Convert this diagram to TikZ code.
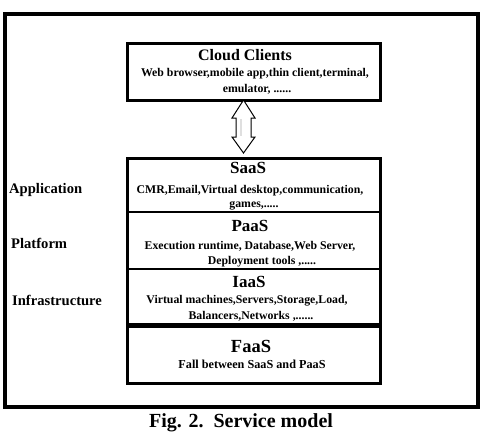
\documentclass[tikz,border=0pt]{standalone}
\usepackage{fontspec}
\setmainfont{Liberation Serif}
\usetikzlibrary{calc}
\begin{document}
\begin{tikzpicture}[x=1pt,y=-1pt,
  frame/.style={draw, line width=4pt},
  box/.style={draw, line width=2.6pt, anchor=north west, inner sep=0pt},
  divider/.style={line width=2pt},
  ttl/.style={anchor=base, inner sep=0pt, font=\fontsize{17}{17}\selectfont\bfseries},
  sub/.style={anchor=base, inner sep=0pt, font=\fontsize{11.8}{12}\selectfont\bfseries},
  lbl/.style={anchor=base west, inner sep=0pt, font=\fontsize{14.6}{15}\selectfont\bfseries},
  captext/.style={anchor=base, inner sep=0pt, font=\fontsize{20}{20}\selectfont\bfseries},
  dblarrow/.style={draw, line width=1pt, fill=white}]
\useasboundingbox (0,0) rectangle (481,434);
\node[frame, anchor=north west, minimum width=473pt, minimum height=393pt, inner sep=0pt] (outer) at (3,12) {};
% Cloud clients
\node[box, minimum width=253pt, minimum height=57pt] (cloud) at (126,42) {};
\node[ttl, font=\fontsize{16}{16}\selectfont\bfseries] (cloudt) at (245,60) {Cloud Clients};
\node[sub] (cloud1) at (255,76) {Web browser,mobile app,thin client,terminal,};
\node[sub] (cloud2) at (257,92) {emulator, ......};
% stack
\node[box, minimum width=253pt, minimum height=166pt] (stack) at (126,157) {};
\coordinate (d1l) at (126,212); \coordinate (d1r) at (379,212);
\coordinate (d2l) at (126,269); \coordinate (d2r) at (379,269);
\draw[divider] (d1l) -- (d1r);
\draw[divider] (d2l) -- (d2r);
\node[box, minimum width=253pt, minimum height=57pt] (faas) at (126,325) {};
% double arrow
\coordinate (at) at (243.5,100);
\coordinate (ab) at (243.5,153);
\draw[dblarrow] (at) -- ++(11.5,18) -- ++(-4,0) -- ++(0,19) -- ++(4,0) -- (ab)
  -- ++(-11.5,-16) -- ++(4,0) -- ++(0,-19) -- ++(-4,0) -- cycle;
\fill[gray!25] (239.6,118.6) rectangle (241.5,136.4);
% SaaS
\node[ttl] (saast) at (248,173) {SaaS};
\node[sub] (saas1) at (250,193) {CMR,Email,Virtual desktop,communication,};
\node[sub] (saas2) at (254,207) {games,.....};
% PaaS
\node[ttl] (paast) at (250,231) {PaaS};
\node[sub] (paas1) at (250,249) {Execution runtime, Database,Web Server,};
\node[sub] (paas2) at (262,264) {Deployment tools ,.....};
% IaaS
\node[ttl] (iaast) at (249,287) {IaaS};
\node[sub] (iaas1) at (247,303) {Virtual machines,Servers,Storage,Load,};
\node[sub] (iaas2) at (251,319) {Balancers,Networks ,......};
% FaaS
\node[ttl, font=\fontsize{18.5}{18.5}\selectfont\bfseries] (faast) at (251,352) {FaaS};
\node[sub, font=\fontsize{12.2}{12}\selectfont\bfseries] (faas1) at (252,368) {Fall between SaaS and PaaS};
% side labels
\node[lbl] (app) at (9,193) {Application};
\node[lbl] (plat) at (11,248) {Platform};
\node[lbl] (infra) at (12,305) {Infrastructure};
% caption
\node[captext] (caption) at (241,427) {Fig. 2.\ \ Service model};
\end{tikzpicture}
\end{document}
